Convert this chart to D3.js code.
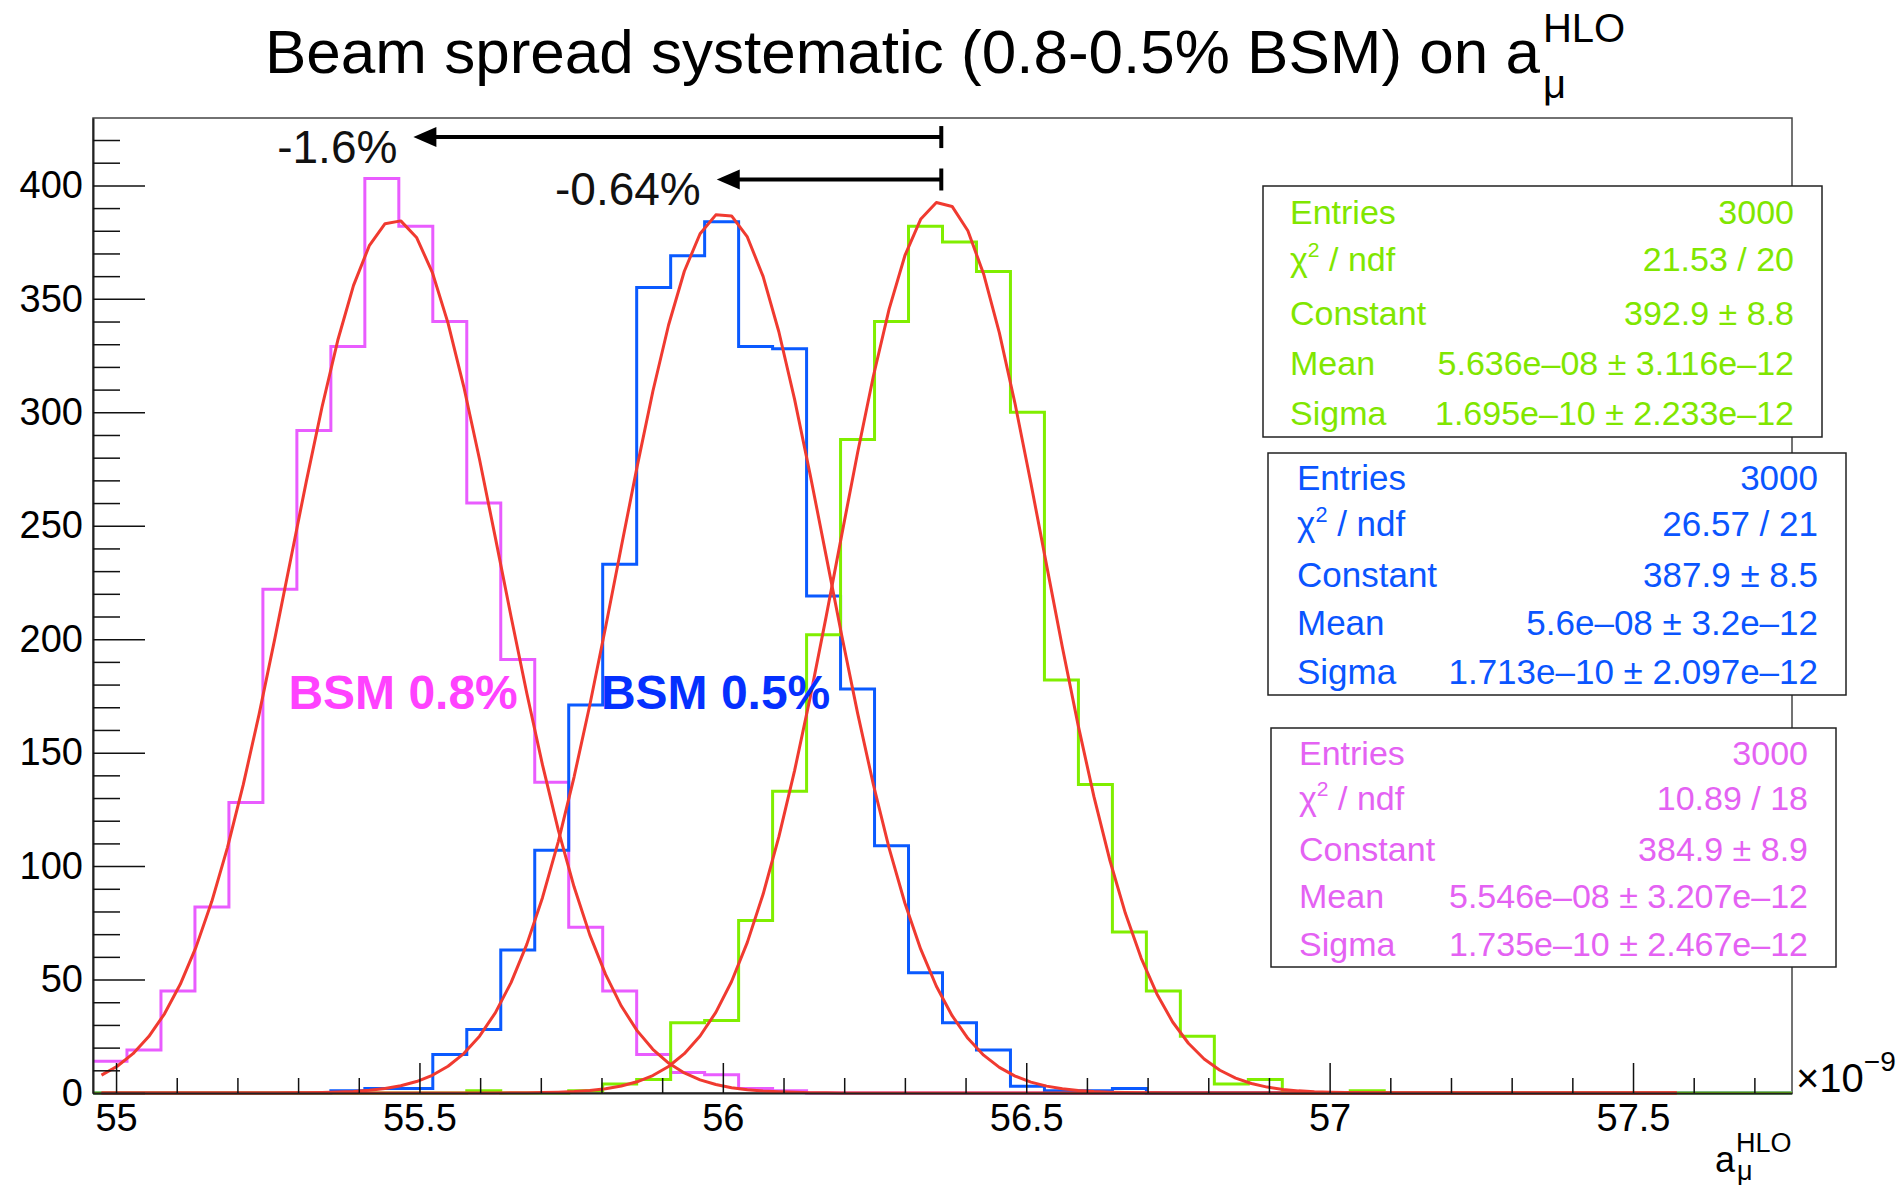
<!DOCTYPE html>
<html><head><meta charset="utf-8">
<script src="https://cdn.jsdelivr.net/npm/d3@7"></script>
<style>
html,body{margin:0;padding:0;background:#fff;}
svg{display:block;}
text{font-family:"Liberation Sans", Arial, Helvetica, sans-serif;}
</style></head><body>
<svg id="chart" width="1903" height="1185"></svg>
<script>
// Common binning of the three histograms (x in units of 1e-9)
const binStart = 54.962;
const binWidth = 0.056;
const binCount = 50;

// Bin contents
const countsBSM08 = [14,19,45,82,128,222,292,329,403,382, 340,260,191,137,73,45,17,9,8,2, 1,0,0,0,0,0,0,0,0,0, 0,0,0,0,0,0,0,0,0,0, 0,0,0,0,0,0,0,0,0,0];
const countsBSM05 = [0,0,0,0,0,0,0,1,2,2, 17,28,63,107,171,233,355,369,384,329, 328,219,178,109,53,31,19,3,1,1, 2,0,0,0,0,0,0,0,0,0, 0,0,0,0,0,0,0,0,0,0];
const countsRef   = [0,0,0,0,0,0,0,0,0,0, 0,1,0,0,1,4,6,31,32,76, 133,202,288,340,382,375,362,300,182,136, 71,45,25,4,6,0,0,1,0,0, 0,0,0,0,0,0,0,0,0,0];

// Gaussian fit results: reference, BSM 0.5%, BSM 0.8%
const fitConstant = [392.9, 387.9, 384.9];
const fitMean     = [56.36, 56.00, 55.46];
const fitSigma    = [0.1695, 0.1713, 0.1735];
const fitRange    = [54.976, 57.572];

// Axis ticks
const xMajorTicks = [55, 55.5, 56, 56.5, 57, 57.5];
const xMinorTicks = d3.range(55.1, 57.75, 0.1).map(v => +v.toFixed(1)).filter(v => Math.abs(v*2 - Math.round(v*2)) > 1e-6);
const yMajorTicks = [0, 50, 100, 150, 200, 250, 300, 350, 400];
const yMinorTicks = d3.range(10, 430, 10).filter(v => v % 50 !== 0);

// Statistics boxes
const statLabels      = ["Entries", "χ2 / ndf", "Constant", "Mean", "Sigma"];
const statValuesRef   = ["3000", "21.53 / 20", "392.9 ± 8.8", "5.636e–08 ± 3.116e–12", "1.695e–10 ± 2.233e–12"];
const statValuesBSM05 = ["3000", "26.57 / 21", "387.9 ± 8.5", "5.6e–08 ± 3.2e–12", "1.713e–10 ± 2.097e–12"];
const statValuesBSM08 = ["3000", "10.89 / 18", "384.9 ± 8.9", "5.546e–08 ± 3.207e–12", "1.735e–10 ± 2.467e–12"];

// Shift annotations (from reference mean to shifted value)
const shiftLabels = ["-1.6%", "-0.64%"];
const shiftFrom   = [56.36, 56.36];
const shiftTo     = [55.49, 55.99];
const shiftLevel  = [421.3, 402.6];

// Curve labels
const curveLabels = ["BSM 0.8%", "BSM 0.5%"];

// ---------------------------------------------------------------
const colors = {
  ref:   {line: "#80ee00", text: "#80e600"},
  bsm05: {line: "#0a5aff", text: "#0a55ff", label: "#0530ff"},
  bsm08: {line: "#e95cff", text: "#e462f3", label: "#ff42ff"},
  fit: "#f03a30"
};

const svg = d3.select("#chart");
const frame = {left: 93, right: 1792, top: 118, bottom: 1093};

const x = d3.scaleLinear().domain([binStart, binStart + binCount * binWidth]).range([frame.left, frame.right]);
const y = d3.scaleLinear().domain([0, 429.7]).range([frame.bottom, frame.top]);

// frame
svg.append("rect")
  .attr("x", frame.left).attr("y", frame.top)
  .attr("width", frame.right - frame.left).attr("height", frame.bottom - frame.top)
  .attr("fill", "#fff").attr("stroke", "#444").attr("stroke-width", 1.5);

// histograms drawn as step outlines
const stepLine = d3.line().x(d => x(d[0])).y(d => y(d[1])).curve(d3.curveStepAfter);
function histPoints(counts) {
  const pts = counts.map((c, i) => [binStart + i * binWidth, c]);
  pts.push([binStart + binCount * binWidth, counts[counts.length - 1]]);
  return pts;
}
[[countsBSM08, colors.bsm08.line], [countsBSM05, colors.bsm05.line], [countsRef, colors.ref.line]].forEach(([counts, col]) => {
  svg.append("path").attr("d", stepLine(histPoints(counts)))
    .attr("fill", "none").attr("stroke", col).attr("stroke-width", 3);
});

// Gaussian fit curves
const fitLine = d3.line().x(d => x(d[0])).y(d => y(d[1]));
const nSamples = 100;
fitConstant.forEach((c, k) => {
  const pts = d3.range(nSamples + 1).map(i => {
    const xv = fitRange[0] + (fitRange[1] - fitRange[0]) * i / nSamples;
    const z = (xv - fitMean[k]) / fitSigma[k];
    return [xv, c * Math.exp(-0.5 * z * z)];
  });
  svg.append("path").attr("d", fitLine(pts))
    .attr("fill", "none").attr("stroke", colors.fit).attr("stroke-width", 3)
    .attr("stroke-linejoin", "round");
});

// axes (ticks pointing inside the frame)
const axisFont = 38;
const yAxis = svg.append("g").attr("transform", `translate(${frame.left},0)`);
yAxis.call(d3.axisLeft(y).tickValues(yMajorTicks).tickSize(-52).tickSizeOuter(0).tickPadding(10).tickFormat(d3.format("d")));
const yMinor = svg.append("g").attr("transform", `translate(${frame.left},0)`);
yMinor.call(d3.axisLeft(y).tickValues(yMinorTicks).tickSize(-27).tickSizeOuter(0).tickFormat(""));
yMinor.select(".domain").remove();

const xAxis = svg.append("g").attr("transform", `translate(0,${frame.bottom})`);
xAxis.call(d3.axisBottom(x).tickValues(xMajorTicks).tickSize(-30).tickSizeOuter(0).tickPadding(11).tickFormat(d => String(d)));
const xMinor = svg.append("g").attr("transform", `translate(0,${frame.bottom})`);
xMinor.call(d3.axisBottom(x).tickValues(xMinorTicks).tickSize(-15).tickSizeOuter(0).tickFormat(""));
xMinor.select(".domain").remove();

svg.selectAll(".tick line").attr("stroke", "#111").attr("stroke-width", 1.5);
svg.selectAll(".domain").attr("stroke", "#222").attr("stroke-width", 2);
svg.selectAll(".tick text").attr("font-size", axisFont).attr("fill", "#000")
  .attr("font-family", "Liberation Sans, Arial, sans-serif");

// x-axis exponent
const expo = svg.append("text").attr("x", 1796).attr("y", 1092).attr("font-size", 40).attr("fill", "#000");
expo.append("tspan").text("×10");
expo.append("tspan").attr("font-size", 28).attr("dy", -21).text("−9");

// x-axis title
svg.append("text").attr("x", 1715).attr("y", 1172).attr("font-size", 36).text("a");
svg.append("text").attr("x", 1736).attr("y", 1152).attr("font-size", 27).text("HLO");
svg.append("text").attr("x", 1737).attr("y", 1180).attr("font-size", 27).text("μ");

// statistics boxes
const boxes = [
  {x: 1263, y: 186, w: 559, h: 251, values: statValuesRef,   color: colors.ref.text,   pad: 27, size: 34},
  {x: 1268, y: 453, w: 578, h: 242, values: statValuesBSM05, color: colors.bsm05.text, pad: 29, size: 35},
  {x: 1271, y: 728, w: 565, h: 239, values: statValuesBSM08, color: colors.bsm08.text, pad: 28, size: 34}
];
boxes.forEach(b => {
  const g = svg.append("g");
  g.append("rect").attr("x", b.x).attr("y", b.y).attr("width", b.w).attr("height", b.h)
    .attr("fill", "#fff").attr("stroke", "#222").attr("stroke-width", 1.5);
  const rowH = b.h / statLabels.length;
  statLabels.forEach((lab, i) => {
    const base = b.y + rowH * (i + 0.5) + 13 - (i === 1 ? 3 : 0);
    const t = g.append("text").attr("x", b.x + b.pad).attr("y", base)
      .attr("font-size", b.size).attr("fill", b.color);
    if (lab.startsWith("χ2")) {
      t.append("tspan").text("χ");
      t.append("tspan").attr("font-size", b.size * 0.62).attr("dy", -14).text("2");
      t.append("tspan").attr("dy", 14).text(" / ndf");
    } else {
      t.text(lab);
    }
    g.append("text").attr("x", b.x + b.w - 28).attr("y", base)
      .attr("text-anchor", "end").attr("font-size", b.size).attr("fill", b.color)
      .text(b.values[i]);
  });
});

// shift arrows
shiftLabels.forEach((lab, i) => {
  const y0 = y(shiftLevel[i]);
  const xs = x(shiftFrom[i]), xe = x(shiftTo[i]);
  const g = svg.append("g");
  g.append("line").attr("x1", xs).attr("x2", xe + 18).attr("y1", y0).attr("y2", y0)
    .attr("stroke", "#000").attr("stroke-width", 4);
  g.append("line").attr("x1", xs).attr("x2", xs).attr("y1", y0 - 11).attr("y2", y0 + 11)
    .attr("stroke", "#000").attr("stroke-width", 4);
  g.append("path").attr("d", `M${xe},${y0} L${xe + 23},${y0 - 10} L${xe + 23},${y0 + 10} Z`).attr("fill", "#000");
  g.append("text").attr("x", xe - 16).attr("y", y0 + 26).attr("text-anchor", "end")
    .attr("font-size", 46).attr("font-family", "Roboto, Liberation Sans, sans-serif")
    .attr("font-weight", 300).attr("fill", "#111").text(lab);
});

// curve labels
svg.append("text").attr("x", x(55.284)).attr("y", 709).attr("font-size", 48).attr("font-weight", "bold")
  .attr("fill", colors.bsm08.label).text(curveLabels[0]);
svg.append("text").attr("x", x(55.799)).attr("y", 709).attr("font-size", 48).attr("font-weight", "bold")
  .attr("fill", colors.bsm05.label).text(curveLabels[1]);

// title
const title = svg.append("text").attr("x", 265).attr("y", 73).attr("font-size", 62).attr("fill", "#000")
  .text("Beam spread systematic (0.8-0.5% BSM) on a");
const tEnd = 265 + title.node().getComputedTextLength();
svg.append("text").attr("x", tEnd + 3).attr("y", 42).attr("font-size", 40).text("HLO");
svg.append("text").attr("x", tEnd + 3).attr("y", 98).attr("font-size", 40).text("μ");
</script>
</body></html>
